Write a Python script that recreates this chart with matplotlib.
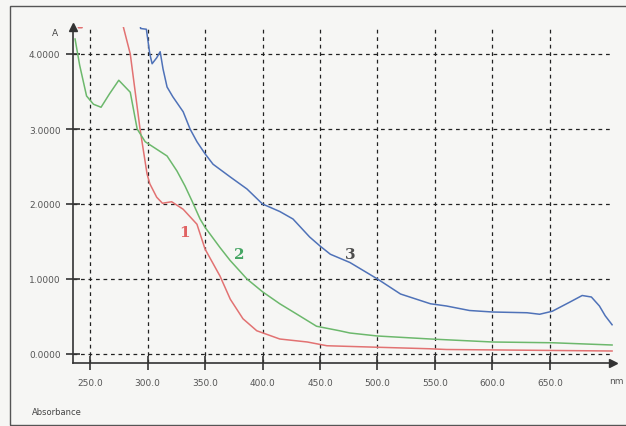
import matplotlib
matplotlib.use("Agg")
import matplotlib.pyplot as plt
from matplotlib.patches import Rectangle

# ---- data ----
wl_1 = [237, 240, 243, 247, 275, 279, 285, 293.5, 299.6, 302, 308, 313, 321, 331, 343, 350,
        363, 372, 383, 395, 415, 439, 456, 500, 545, 560, 704]
abs_1 = [4.5, 4.35, 4.35, 4.6, 4.6, 4.36, 4.0, 3.0, 2.4, 2.27, 2.09, 2.01, 2.03, 1.93, 1.73, 1.4,
         1.04, 0.73, 0.47, 0.31, 0.2, 0.16, 0.11, 0.09, 0.07, 0.06, 0.04]

wl_2 = [237, 241, 247, 253, 259.6, 267, 275, 285, 291, 298, 308, 317, 325.6, 332.6, 338.7, 345.7,
        350, 363, 371.7, 386.5, 400, 415, 430, 447, 467, 476, 500, 546, 600, 652, 704]
abs_2 = [4.2, 3.85, 3.44, 3.33, 3.29, 3.47, 3.65, 3.49, 3.0, 2.83, 2.73, 2.64, 2.44, 2.24, 2.04, 1.8,
         1.69, 1.42, 1.25, 1.0, 0.83, 0.67, 0.53, 0.37, 0.31, 0.28, 0.24, 0.2, 0.16, 0.15, 0.12]

wl_3 = [292, 294, 299, 302, 304, 308, 311, 313.5, 317, 322, 331, 337, 343, 350, 357, 372, 386.5,
        400, 415, 426.5, 441, 450, 459, 476, 500, 520, 546, 560, 580, 600, 630, 641, 652, 667,
        678, 686, 693, 698, 704]
abs_3 = [4.6, 4.34, 4.33, 4.0, 3.87, 3.95, 4.03, 3.8, 3.56, 3.43, 3.23, 3.0, 2.83, 2.67, 2.53, 2.36, 2.2,
         2.0, 1.9, 1.8, 1.56, 1.44, 1.33, 1.22, 1.0, 0.8, 0.67, 0.64, 0.58, 0.56, 0.55, 0.53, 0.57, 0.69,
         0.78, 0.76, 0.64, 0.51, 0.39]

x_ticks = [250, 300, 350, 400, 450, 500, 550, 600, 650]
y_ticks = [0, 1, 2, 3, 4]
series_labels = ["1", "2", "3"]
label_pos = [(332, 1.63), (380, 1.33), (476, 1.33)]

colors = ["#e27272", "#6cb86c", "#4f72b8"]
label_colors = ["#e06262", "#45a563", "#4d4d4d"]

W, H = 626, 427
fig = plt.figure(figsize=(W / 100, H / 100), dpi=100)
bg = "#f6f6f4"
fig.patch.set_facecolor(bg)

# outer frame
fig.patches.append(Rectangle((10 / W, 1 - 426 / H), 1.2, (426 - 7) / H, transform=fig.transFigure,
                             fill=False, edgecolor="#555555", linewidth=1.0))

ax = fig.add_axes([73 / W, 1 - 364 / H, (613 - 73) / W, (364 - 28) / H])
ax.set_facecolor(bg)
ax.set_xlim(235.2, 704.8)
ax.set_ylim(-0.12, 4.36)

for wl, ab, c in zip([wl_1, wl_2, wl_3], [abs_1, abs_2, abs_3], colors):
    ax.plot(wl, ab, color=c, linewidth=1.1, zorder=3)

for lab, (lx, ly), lc in zip(series_labels, label_pos, label_colors):
    ax.text(lx, ly, lab, color=lc, fontsize=11, fontweight="bold", family="DejaVu Serif",
            ha="center", va="center", zorder=4)

ax.set_xticks(x_ticks)
ax.set_xticklabels([f"{v:.1f}" for v in x_ticks])
ax.set_yticks(y_ticks)
ax.set_yticklabels([f"{v:.4f}" for v in y_ticks])
ax.tick_params(axis="both", direction="inout", length=10, width=1.2, colors="#333333",
               labelsize=6.5, labelcolor="#555555")
ax.tick_params(axis="x", pad=6)
ax.tick_params(axis="y", pad=4)

ax.grid(True, color="#222222", linestyle=(0, (3, 3)), linewidth=0.9, zorder=1)

for s in ["top", "right"]:
    ax.spines[s].set_visible(False)
for s in ["left", "bottom"]:
    ax.spines[s].set_color("#333333")
    ax.spines[s].set_linewidth(1.2)

# axis arrows
ax.plot(0, 1, marker="^", color="#333333", markersize=6, transform=ax.transAxes, clip_on=False)
ax.plot(1, 0, marker=">", color="#333333", markersize=6, transform=ax.transAxes, clip_on=False)

fig.text(55 / W, 1 - 33 / H, "A", fontsize=6.5, color="#444444", ha="center", va="center")
fig.text(624 / W, 1 - 382 / H, "nm", fontsize=6.5, color="#555555", ha="right", va="center")
fig.text(32 / W, 1 - 413 / H, "Absorbance", fontsize=6, color="#444444", ha="left", va="center")

fig.savefig("out.png", dpi=100, facecolor=fig.get_facecolor())
